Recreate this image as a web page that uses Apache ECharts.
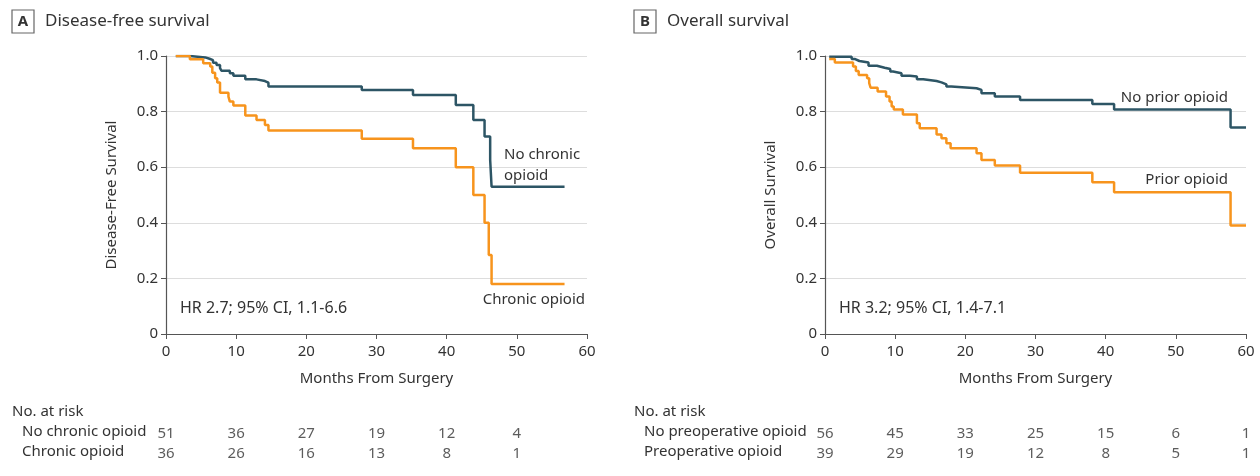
<!DOCTYPE html>
<html>
<head>
<meta charset="utf-8">
<title>Survival by opioid use</title>
<script src="https://cdn.jsdelivr.net/npm/echarts@6/dist/echarts.min.js"></script>
<style>
  html, body { margin: 0; padding: 0; background: #ffffff; }
  #chart { width: 1260px; height: 476px; }
</style>
</head>
<body>
<div id="chart"></div>
<script>
// Kaplan-Meier steps: [month, survival from that month on]
const dfsNoChronic = [
  [1.4, 1.0], [3.4, 0.995], [5.6, 0.99], [6.2, 0.985], [6.7, 0.976], [7.2, 0.968],
  [7.7, 0.956], [7.9, 0.947], [9.1, 0.938], [9.6, 0.929], [11.3, 0.916], [12.9, 0.91],
  [14.1, 0.904], [14.6, 0.89], [27.9, 0.878], [35.2, 0.86], [41.3, 0.824], [43.8, 0.77],
  [45.4, 0.71], [46.2, 0.626], [46.4, 0.53], [56.8, 0.53]
];
const dfsChronic = [
  [1.4, 1.0], [3.4, 0.988], [5.3, 0.974], [6.3, 0.962], [6.6, 0.94], [7.0, 0.92],
  [7.3, 0.905], [7.7, 0.868], [8.9, 0.854], [9.1, 0.836], [9.6, 0.822], [11.3, 0.786],
  [12.9, 0.77], [14.1, 0.752], [14.6, 0.732], [27.9, 0.702], [35.2, 0.668], [41.3, 0.6],
  [43.8, 0.5], [45.4, 0.4], [46.0, 0.284], [46.4, 0.18], [56.8, 0.18]
];
const osNoPrior = [
  [0.6, 0.997], [3.8, 0.989], [4.3, 0.982], [4.9, 0.977], [6.2, 0.965], [7.4, 0.958],
  [8.5, 0.953], [9.3, 0.944], [9.7, 0.938], [10.9, 0.929], [12.1, 0.926], [13.1, 0.916],
  [14.0, 0.91], [15.9, 0.905], [16.6, 0.898], [17.3, 0.89], [18.0, 0.884], [21.6, 0.878],
  [22.3, 0.866], [24.2, 0.854], [27.8, 0.842], [38.1, 0.827], [41.2, 0.808], [57.8, 0.743],
  [60, 0.743]
];
const osPrior = [
  [0.6, 0.989], [1.4, 0.977], [4.0, 0.962], [4.4, 0.946], [4.8, 0.932], [6.0, 0.92],
  [6.3, 0.902], [6.5, 0.886], [7.5, 0.872], [8.7, 0.854], [9.2, 0.836], [9.5, 0.818],
  [9.8, 0.808], [11.1, 0.79], [13.1, 0.758], [13.5, 0.74], [15.9, 0.718], [16.6, 0.704],
  [17.3, 0.686], [17.9, 0.668], [21.6, 0.65], [22.3, 0.626], [24.2, 0.606], [27.8, 0.58],
  [38.1, 0.546], [41.2, 0.51], [57.8, 0.39], [60, 0.39]
];

// numbers at risk
const riskTimesA = [0, 10, 20, 30, 40, 50];
const riskNoChronic = [51, 36, 27, 19, 12, 4];
const riskChronic = [36, 26, 16, 13, 8, 1];
const riskTimesB = [0, 10, 20, 30, 40, 50, 60];
const riskNoPreop = [56, 45, 33, 25, 15, 6, 1];
const riskPreop = [39, 29, 19, 12, 8, 5, 1];

const yTicks = ['0', '0.2', '0.4', '0.6', '0.8', '1.0'];

const FONT = 'Noto Sans';
const FS = 15;
const TEXT = '#333333';
const AXIS = '#555555';
const BLUE = '#2d5565';
const ORANGE = '#f7941d';

const chart = echarts.init(document.getElementById('chart'));

function plotX(grid) {
  return {
    gridIndex: grid, type: 'value', min: 0, max: 60, interval: 10,
    name: 'Months From Surgery', nameLocation: 'middle', nameGap: 37,
    nameTextStyle: { fontFamily: FONT, fontSize: FS, color: TEXT },
    axisLine: { lineStyle: { color: AXIS, width: 1.2 } },
    axisTick: { length: 5, lineStyle: { color: AXIS } },
    axisLabel: { margin: 10, fontFamily: FONT, fontSize: FS, color: TEXT },
    splitLine: { show: false }
  };
}

function plotY(grid, name) {
  return {
    gridIndex: grid, type: 'value', min: 0, max: 1, interval: 0.2,
    name: name, nameLocation: 'middle', nameGap: 47,
    nameTextStyle: { fontFamily: FONT, fontSize: FS, color: TEXT },
    axisLine: { show: true, lineStyle: { color: AXIS, width: 1.2 } },
    axisTick: { show: true, length: 5, lineStyle: { color: AXIS } },
    axisLabel: {
      margin: 8, fontFamily: FONT, fontSize: FS, color: TEXT,
      formatter: (v) => yTicks[Math.round(v * 5)]
    },
    splitLine: { lineStyle: { color: '#dddddd', width: 1 } }
  };
}

function tableX(grid) {
  return { gridIndex: grid, type: 'value', min: 0, max: 60, show: false };
}
function tableY(grid) {
  return { gridIndex: grid, type: 'category', data: ['a', 'b'], inverse: true, show: false };
}

function kmLine(data, color, axis) {
  return {
    type: 'line', xAxisIndex: axis, yAxisIndex: axis, data: data, step: 'end',
    symbol: 'none', lineStyle: { color: color, width: 2.5 }, silent: true, animation: false
  };
}

function riskRow(times, counts, row, axis) {
  return {
    type: 'scatter', xAxisIndex: axis, yAxisIndex: axis, symbolSize: 1,
    itemStyle: { color: 'rgba(0,0,0,0)' }, animation: false, silent: true,
    data: times.map((t, i) => [t, row, counts[i]]),
    label: {
      show: true, position: 'inside', fontFamily: FONT, fontSize: FS, color: TEXT,
      formatter: (p) => String(p.value[2])
    }
  };
}

// text placed by its vertical middle
function txt(x, y, s, extra) {
  return {
    type: 'text', x: x, y: y,
    style: Object.assign({ text: s, fontFamily: FONT, fontSize: FS, fill: TEXT,
                           verticalAlign: 'middle' }, extra || {})
  };
}

function panelTag(x, letter, title) {
  return [
    { type: 'rect', shape: { x: x, y: 10, width: 22, height: 23 },
      style: { fill: '#fff', stroke: '#666', lineWidth: 1.2 } },
    txt(x + 11, 22, letter, { fontWeight: 'bold', align: 'center' }),
    txt(x + 33, 21, title, { fontSize: 17 })
  ];
}

chart.setOption({
  backgroundColor: '#ffffff',
  animation: false,
  grid: [
    { left: 166, right: 673, top: 56, bottom: 142 },
    { left: 825, right: 14, top: 56, bottom: 142 },
    { left: 166, right: 673, top: 424, height: 40 },
    { left: 825, right: 14, top: 424, height: 40 }
  ],
  xAxis: [plotX(0), plotX(1), tableX(2), tableX(3)],
  yAxis: [plotY(0, 'Disease-Free Survival'), plotY(1, 'Overall Survival'), tableY(2), tableY(3)],
  series: [
    kmLine(dfsNoChronic, BLUE, 0),
    kmLine(dfsChronic, ORANGE, 0),
    kmLine(osNoPrior, BLUE, 1),
    kmLine(osPrior, ORANGE, 1),
    riskRow(riskTimesA, riskNoChronic, 'a', 2),
    riskRow(riskTimesA, riskChronic, 'b', 2),
    riskRow(riskTimesB, riskNoPreop, 'a', 3),
    riskRow(riskTimesB, riskPreop, 'b', 3)
  ],
  graphic: [
    ...panelTag(12, 'A', 'Disease-free survival'),
    ...panelTag(634, 'B', 'Overall survival'),
    txt(504, 155, 'No chronic'),
    txt(504, 176, 'opioid'),
    txt(585, 300, 'Chronic opioid', { align: 'right' }),
    txt(180, 308, 'HR 2.7; 95% CI, 1.1-6.6', { fontSize: 16 }),
    txt(1228, 98, 'No prior opioid', { align: 'right' }),
    txt(1228, 180, 'Prior opioid', { align: 'right' }),
    txt(839, 308, 'HR 3.2; 95% CI, 1.4-7.1', { fontSize: 16 }),
    txt(12, 412, 'No. at risk'),
    txt(22, 432, 'No chronic opioid'),
    txt(22, 452, 'Chronic opioid'),
    txt(634, 412, 'No. at risk'),
    txt(644, 432, 'No preoperative opioid'),
    txt(644, 452, 'Preoperative opioid')
  ]
});
</script>
</body>
</html>
